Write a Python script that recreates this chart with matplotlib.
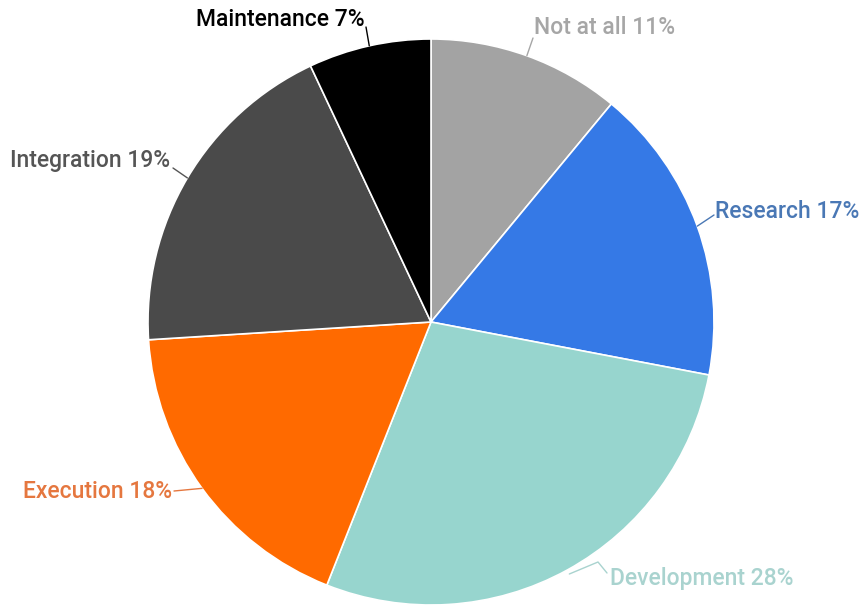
import numpy as np
import matplotlib.pyplot as plt

# Share of time per phase
labels = ["Not at all", "Research", "Development", "Execution", "Integration", "Maintenance"]
shares = [11, 17, 28, 18, 19, 7]
colors = ["#a3a3a3", "#3579e6", "#97d5ce", "#ff6a00", "#4a4a4a", "#000000"]
label_colors = ["#a6a6a6", "#4a78b5", "#a9d3cf", "#e5773f", "#555555", "#000000"]

W, H = 863, 607
CX, CY, R = 431, 322, 283

# where each label sits (pixel space) and the elbow of its leader line
label_pos = [(534, 28), (715, 212), (610, 579), (172, 492), (170, 160), (365, 19)]
label_ha = ["left", "left", "left", "right", "right", "right"]
elbows = [(533, 38), (714, 215), (598, 562), (174, 491), (173, 168), (366, 27)]


def to_data(x, y):
    return x, H - y


fig = plt.figure(figsize=(W / 100, H / 100), dpi=100)
ax = fig.add_axes([0, 0, 1, 1])
wedges, _ = ax.pie(shares, colors=colors, startangle=90, counterclock=False,
                   center=to_data(CX, CY), radius=R,
                   wedgeprops=dict(edgecolor="white", linewidth=1.2))
ax.set_xlim(0, W)
ax.set_ylim(0, H)
ax.set_aspect("equal")
ax.axis("off")

for w, lab, val, col, pos, ha, elb in zip(wedges, labels, shares, label_colors,
                                          label_pos, label_ha, elbows):
    mid = np.deg2rad((w.theta1 + w.theta2) / 2)
    ex, ey = CX + R * np.cos(mid), CY - R * np.sin(mid)
    if lab == "Development":
        pts = [(ex + 2, ey + 4), elb, (607, 573)]
    else:
        pts = [(ex, ey), elb]
    xs, ys = zip(*[to_data(px, py) for px, py in pts])
    ax.plot(xs, ys, color=col, lw=1.0, solid_capstyle="round")
    tx, ty = to_data(*pos)
    ax.text(tx, ty, f"{lab} {val}%", ha=ha, va="center", color=col,
            fontsize=16.5, fontfamily="Roboto", fontweight="medium")

fig.savefig("out.png", dpi=100)
